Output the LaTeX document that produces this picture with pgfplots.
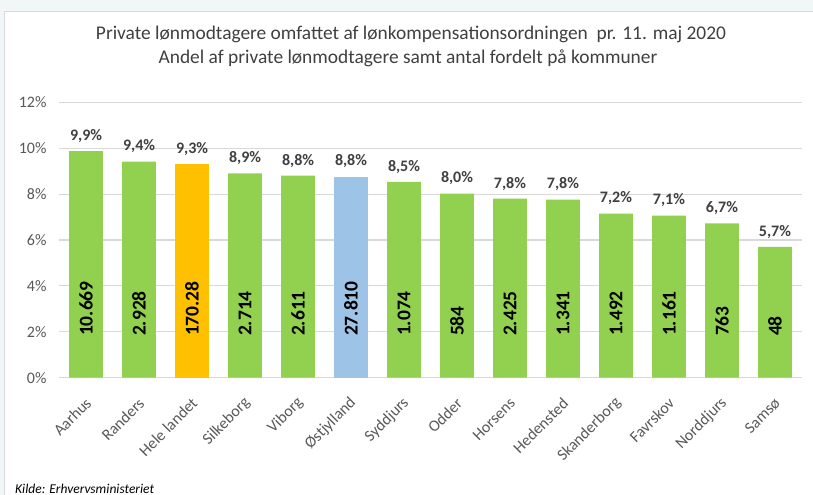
\documentclass[border=0pt]{standalone}
\usepackage{pgfplots}
\pgfplotsset{compat=1.18}
\usepackage{fontspec}
\setmainfont{Carlito}
\definecolor{bargreen}{HTML}{92D050}
\definecolor{barorange}{HTML}{FFC000}
\definecolor{barblue}{HTML}{9DC3E6}
\definecolor{gridgray}{HTML}{D9D9D9}
\definecolor{ticktext}{HTML}{595959}
\definecolor{labeltext}{HTML}{404040}
\definecolor{framebg}{HTML}{F1F6F6}
\definecolor{frameline}{HTML}{D6DADA}
\begin{document}
\begin{tikzpicture}
\useasboundingbox (0bp,0bp) rectangle (813bp,495bp);
\fill[framebg] (0bp,0bp) rectangle (813bp,495bp);
\fill[white] (4.5bp,0bp) rectangle (813bp,483.5bp);
\draw[frameline, line width=1.3bp] (4.5bp,0bp) -- (4.5bp,483.5bp) -- (813bp,483.5bp);
\node[anchor=base, font=\fontsize{19.4bp}{23bp}\selectfont, text=labeltext] at (411bp,455bp) {Private lønmodtagere omfattet af lønkompensationsordningen\ \ pr. 11. maj 2020};
\node[anchor=base, font=\fontsize{19.4bp}{23bp}\selectfont, text=labeltext] at (408bp,431bp) {Andel af private lønmodtagere samt antal fordelt på kommuner};
\node[anchor=base west, inner sep=0pt, font=\itshape\fontsize{13.5bp}{16bp}\selectfont] at (15bp,2bp) {Kilde: Erhvervsministeriet};
\begin{axis}[
  at={(59bp,117.3bp)}, anchor=south west,
  scale only axis, width=743bp, height=275.4bp,
  xmin=-0.51, xmax=13.51, ymin=0, ymax=12,
  axis line style={draw=none},
  clip=false,
  ytick={0,2,4,6,8,10,12},
  yticklabels={0\%,2\%,4\%,6\%,8\%,10\%,12\%},
  ymajorgrids, grid style={gridgray, line width=1.1bp},
  major tick length=0pt,
  xtick={0,1,2,3,4,5,6,7,8,9,10,11,12,13},
  xticklabels={Aarhus,Randers,Hele landet,Silkeborg,Viborg,Østjylland,Syddjurs,Odder,Horsens,Hedensted,Skanderborg,Favrskov,Norddjurs,Samsø},
  tick label style={font=\fontsize{16bp}{19bp}\selectfont, text=ticktext},
  yticklabel style={xshift=-9bp},
  xticklabel style={rotate=45, anchor=east, xshift=-11bp, yshift=-18bp},
  every node near coord/.style={font=\bfseries\fontsize{16bp}{19bp}\selectfont, text=labeltext, anchor=south, yshift=5bp},
]
\addplot[ybar, bar width=0.64, bar shift=0pt, fill=bargreen, draw=none, nodes near coords, point meta=explicit symbolic] coordinates {
(0,9.87)[9,9\%] (1,9.42)[9,4\%] (3,8.90)[8,9\%] (4,8.80)[8,8\%] (6,8.53)[8,5\%] (7,8.02)[8,0\%] (8,7.80)[7,8\%] (9,7.76)[7,8\%] (10,7.15)[7,2\%] (11,7.06)[7,1\%] (12,6.72)[6,7\%] (13,5.70)[5,7\%]
};
\addplot[ybar, bar width=0.64, bar shift=0pt, fill=barorange, draw=none, nodes near coords, point meta=explicit symbolic] coordinates {
(2,9.30)[9,3\%]
};
\addplot[ybar, bar width=0.64, bar shift=0pt, fill=barblue, draw=none, nodes near coords, point meta=explicit symbolic] coordinates {
(5,8.76)[8,8\%]
};
\addplot[draw=none, mark=none, nodes near coords, point meta=explicit symbolic,
  every node near coord/.style={font=\bfseries\fontsize{19.5bp}{23bp}\selectfont, text=black, rotate=90, anchor=west, inner sep=0pt}] coordinates {
(0,1.81)[10.669] (1,1.81)[2.928] (2,1.81)[170.28] (3,1.81)[2.714] (4,1.81)[2.611] (5,1.81)[27.810] (6,1.81)[1.074] (7,1.81)[584] (8,1.81)[2.425] (9,1.81)[1.341] (10,1.81)[1.492] (11,1.81)[1.161] (12,1.81)[763] (13,1.81)[48]
};
\end{axis}
\end{tikzpicture}
\end{document}
